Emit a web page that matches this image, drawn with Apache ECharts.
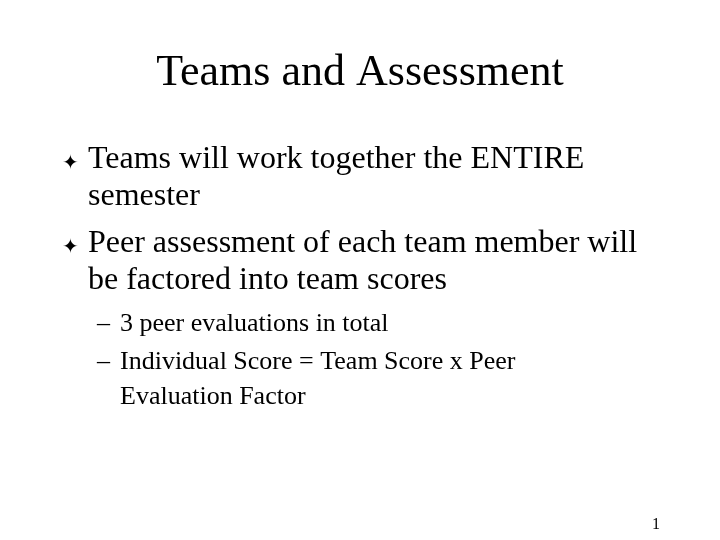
<!DOCTYPE html>
<html><head><meta charset="utf-8">
<script src="https://cdn.jsdelivr.net/npm/echarts@6/dist/echarts.min.js"></script>
<style>html,body{margin:0;padding:0;background:#fff}#c{width:720px;height:540px}</style>
</head><body><div id="c"></div>
<script>
const title = "Teams and Assessment";
const bulletLines = [
  ["Teams will work together the ENTIRE", "semester"],
  ["Peer assessment of each team member will", "be factored into team scores"]
];
const subLines = [
  ["3 peer evaluations in total"],
  ["Individual Score = Team Score x Peer", "Evaluation Factor"]
];
const pageNum = "1";
const F = '"Liberation Serif","Times New Roman",serif';
const g = [];
function t(x, y, s, size, align) {
  g.push({type:'text', x:x, y:y, style:{text:s, font:size+'px '+F, fill:'#000', align:align||'left', verticalAlign:'bottom'}});
}
t(360, 95, title, 44, 'center');
let by = [176, 260];
bulletLines.forEach((ls, i) => {
  t(62, by[i] - 2, '\u2726', 20);
  ls.forEach((l, j) => t(88, by[i] + j * 37, l, 32));
});
let sy = [337, 375];
subLines.forEach((ls, i) => {
  t(97, sy[i], '\u2013', 26);
  ls.forEach((l, j) => t(120, sy[i] + j * 35, l, 26));
});
t(660, 533, pageNum, 16, 'right');
const chart = echarts.init(document.getElementById('c'));
chart.setOption({backgroundColor:'#fff', graphic:g});
</script></body></html>
